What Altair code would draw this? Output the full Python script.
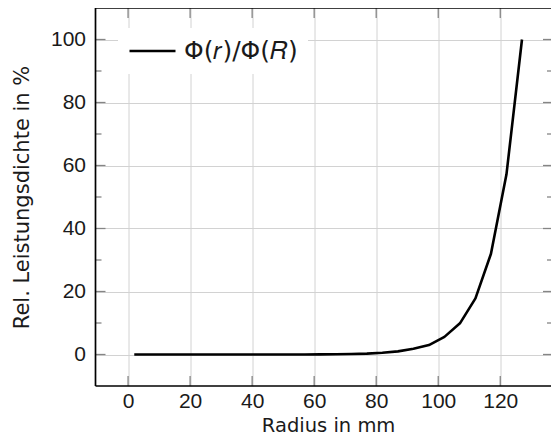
import altair as alt
import pandas as pd

# ---- data ----
radius_mm = [2, 7, 12, 17, 22, 27, 32, 37, 42, 47, 52, 57, 62, 67, 72, 77,
             82, 87, 92, 97, 102, 107, 112, 117, 122, 127]
phi_rel = [0.0, 0.0, 0.0, 0.0, 0.0, 0.0, 0.0, 0.0, 0.0, 0.01, 0.01, 0.02,
           0.04, 0.08, 0.15, 0.27, 0.55, 1.0, 1.8, 3.0, 5.6, 9.9, 17.8,
           32.0, 57.2, 100.0]
series_name = "Φ(𝑟)/Φ(𝑅)"

x_ticks = [0, 20, 40, 60, 80, 100, 120]
y_major = [0, 20, 40, 60, 80, 100]
y_minor = [10, 30, 50, 70, 90]

PX_PER_UNIT = 465.25 / 150.0
PAD_LEFT = 87.5
W = 543 - PAD_LEFT          # whole svg fits inside the 8px page margins
H = 378
SVG_H = 428
X_DOMAIN = [-10.5, -10.5 + W / PX_PER_UNIT]
Y_DOMAIN = [-10, 110]
GRID = "#d2d2d2"
TICK = "#858585"

df = pd.DataFrame({"r": radius_mm, "phi": phi_rel, "series": series_name})
xt = pd.DataFrame({"x": x_ticks})
ymaj = pd.DataFrame({"y": y_major})
ymin = pd.DataFrame({"y": y_minor})
one = alt.Data(values=[{"k": 1}])

xscale = alt.Scale(domain=X_DOMAIN, nice=False, zero=False)
yscale = alt.Scale(domain=Y_DOMAIN, nice=False, zero=False)

x_axis = alt.Axis(
    values=x_ticks, grid=True, gridColor=GRID, gridWidth=1,
    ticks=False, tickSize=0, domain=False,
    labelFont="Liberation Sans", labelFontSize=21, labelColor="#1a1a1a",
    labelPadding=4, labelFlush=False,
    title="Radius in mm", titleFont="DejaVu Sans", titleFontSize=19.5,
    titleFontWeight="normal", titleColor="#1a1a1a",
    titleX=232.6, titleY=45, titleBaseline="alphabetic", titleAlign="center",
)
y_axis = alt.Axis(
    values=y_major + y_minor, grid=True, gridColor=GRID, gridWidth=1,
    ticks=False, tickSize=0, domain=False,
    labelExpr="datum.value % 20 == 0 ? datum.label : ''",
    labelFont="Liberation Sans", labelFontSize=21, labelColor="#1a1a1a",
    labelPadding=10, labelFlush=False,
    title="Rel. Leistungsdichte in %", titleFont="DejaVu Sans", titleFontSize=21,
    titleFontWeight="normal", titleColor="#1a1a1a",
    titleAngle=270, titleX=-67.5, titleY=H / 2, titleBaseline="alphabetic",
    titleAlign="center",
)

line = alt.Chart(df).mark_line(strokeWidth=2.6, strokeJoin="round").encode(
    x=alt.X("r:Q", scale=xscale, axis=x_axis),
    y=alt.Y("phi:Q", scale=yscale, axis=y_axis),
    color=alt.Color(
        "series:N",
        scale=alt.Scale(range=["black"]),
        legend=alt.Legend(
            title=None, orient="none", legendX=22.5, legendY=20,
            fillColor="white", padding=10,
            symbolType="M-1,0H3", symbolSize=529, symbolStrokeWidth=2.6,
            labelOffset=30,
            labelFont="DejaVu Sans", labelFontSize=25, labelColor="#1a1a1a",
        ),
    ),
)

# inward ticks
left_major = alt.Chart(ymaj).mark_rule(color=TICK, strokeWidth=1.3).encode(
    y=alt.Y("y:Q", scale=yscale), x=alt.value(0), x2=alt.value(10))
left_minor = alt.Chart(ymin).mark_rule(color=TICK, strokeWidth=1.3).encode(
    y=alt.Y("y:Q", scale=yscale), x=alt.value(0), x2=alt.value(6))
right_major = alt.Chart(ymaj).mark_rule(color=TICK, strokeWidth=1.3).encode(
    y=alt.Y("y:Q", scale=yscale), x=alt.value(W - 8), x2=alt.value(W))
right_minor = alt.Chart(ymin).mark_rule(color=TICK, strokeWidth=1.3).encode(
    y=alt.Y("y:Q", scale=yscale), x=alt.value(W - 4), x2=alt.value(W))
top_ticks = alt.Chart(xt).mark_rule(color=TICK, strokeWidth=1.3).encode(
    x=alt.X("x:Q", scale=xscale), y=alt.value(0), y2=alt.value(10))
bottom_ticks = alt.Chart(xt).mark_rule(color=TICK, strokeWidth=1.3).encode(
    x=alt.X("x:Q", scale=xscale), y=alt.value(H - 10), y2=alt.value(H))

# frame (the right edge lies beyond the visible area in the reference)
frame_top = alt.Chart(one).mark_rule(color="black", strokeWidth=1.7).encode(
    x=alt.value(0), x2=alt.value(W), y=alt.value(0))
frame_bottom = alt.Chart(one).mark_rule(color="black", strokeWidth=1.7).encode(
    x=alt.value(0), x2=alt.value(W), y=alt.value(H))
frame_left = alt.Chart(one).mark_rule(color="black", strokeWidth=1.7).encode(
    x=alt.value(0), y=alt.value(0), y2=alt.value(H))

chart = alt.layer(
    line, left_major, left_minor, right_major, right_minor, top_ticks,
    bottom_ticks, frame_top, frame_bottom, frame_left,
).properties(
    width=W, height=H,
    autosize=alt.AutoSizeParams(type="none"),
    padding={"left": PAD_LEFT, "top": 0, "right": 0, "bottom": SVG_H - H},
    background="white",
).configure_view(stroke=None)

chart.save("out.html", embed_options={"renderer": "svg", "actions": False})
